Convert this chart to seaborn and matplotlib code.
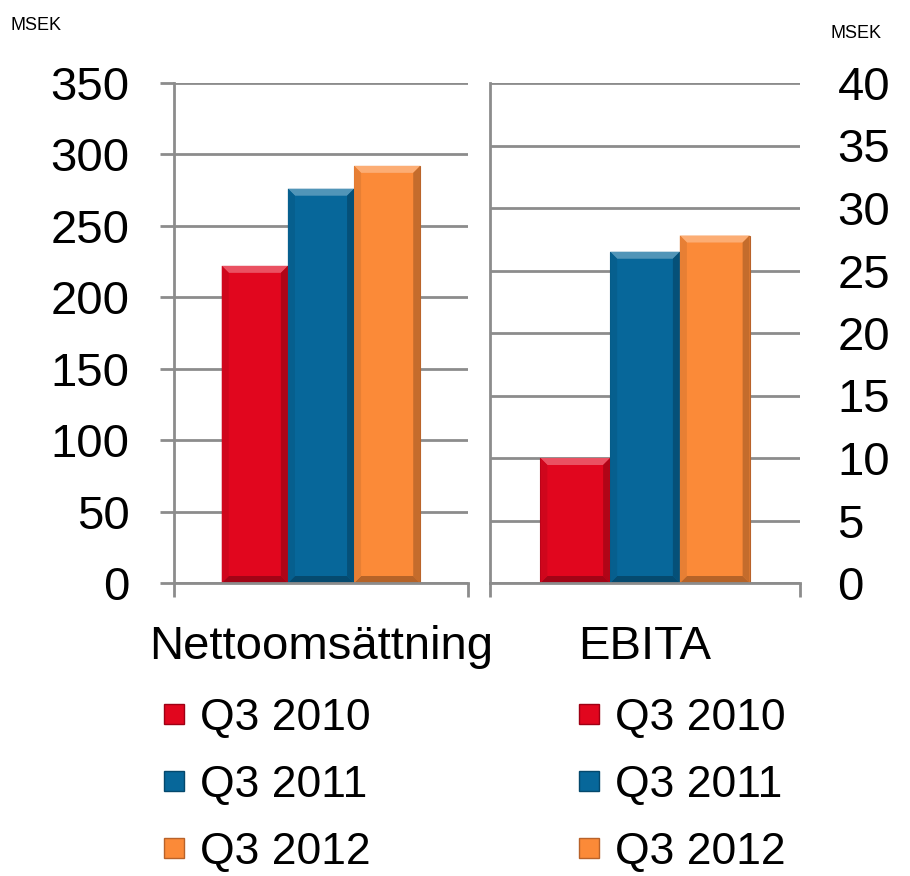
import matplotlib
matplotlib.use("Agg")
import matplotlib.pyplot as plt
import seaborn as sns
import pandas as pd
from matplotlib.lines import Line2D
from matplotlib.patches import Polygon
import matplotlib.colors as mcolors

# ---- data ----
periods = ["Q3 2010", "Q3 2011", "Q3 2012"]
net_sales = [222, 276, 292]          # MSEK, Nettoomsättning
ebita = [10, 26.5, 27.8]             # MSEK, EBITA
left_ticks = [0, 50, 100, 150, 200, 250, 300, 350]
right_ticks = [0, 5, 10, 15, 20, 25, 30, 35, 40]
cat_left = "Nettoomsättning"
cat_right = "EBITA"
colors = ["#E1061E", "#07679A", "#FB8A38"]
edge_colors = ["#9E0014", "#04486C", "#B8622A"]

sns.set_theme(style="white")
plt.rcParams['font.family'] = ['Liberation Sans', 'DejaVu Sans']
plt.rcParams['text.color'] = 'black'

GRID = "#8C8C8C"
FS = 34
LFS = 32


def shade(c, f):
    r, g, b = mcolors.to_rgb(c)
    if f >= 0:
        return (r + (1 - r) * f, g + (1 - g) * f, b + (1 - b) * f)
    return (r * (1 + f), g * (1 + f), b * (1 + f))


fig = plt.figure(figsize=(9.1, 8.76), dpi=100)
axL = fig.add_axes([174/910, 1-583/876, 294/910, 500/876])
axR = fig.add_axes([490/910, 1-583/876, 310/910, 500/876])

dfL = pd.DataFrame({"metric": [cat_left]*3, "period": periods, "value": net_sales})
dfR = pd.DataFrame({"metric": [cat_right]*3, "period": periods, "value": ebita})

for ax, df, ticks, lim, wpx in [(axL, dfL, left_ticks, 350, 294), (axR, dfR, right_ticks, 40, 310)]:
    sns.barplot(data=df, x="metric", y="value", hue="period", palette=colors,
                width=0.675, ax=ax, legend=False, saturation=1)
    ax.set_xlim(-0.5, 0.5)
    ax.set_ylim(0, lim)
    bev = 7
    dx = bev / wpx
    dy = bev / 500 * lim
    for i, p in enumerate(list(ax.patches)):
        c = colors[i % 3]
        p.set_edgecolor(edge_colors[i % 3])
        p.set_linewidth(0.8)
        x0, y0 = p.get_x(), p.get_y()
        x1, y1 = x0 + p.get_width(), y0 + p.get_height()
        polys = [
            ([(x0, y1), (x1, y1), (x1 - dx, y1 - dy), (x0 + dx, y1 - dy)], shade(c, 0.30)),
            ([(x1, y1), (x1, y0), (x1 - dx, y0 + dy), (x1 - dx, y1 - dy)], shade(c, -0.22)),
            ([(x0, y0), (x1, y0), (x1 - dx, y0 + dy), (x0 + dx, y0 + dy)], shade(c, -0.28)),
            ([(x0, y0), (x0, y1), (x0 + dx, y1 - dy), (x0 + dx, y0 + dy)], shade(c, -0.08)),
        ]
        for pts, col in polys:
            ax.add_patch(Polygon(pts, closed=True, facecolor=col, edgecolor="none", zorder=p.get_zorder() + 0.1))
    ax.set_yticks(ticks)
    ax.yaxis.grid(True, color=GRID, lw=2)
    ax.set_axisbelow(True)
    ax.set_xlabel("")
    ax.set_ylabel("")
    for s in ["top", "right"]:
        ax.spines[s].set_visible(False)
    for s in ["left", "bottom"]:
        ax.spines[s].set_color(GRID)
        ax.spines[s].set_linewidth(2)
    ax.set_xticks([0])
    ax.set_xticks([-0.5, 0.5], minor=True)
    ax.tick_params(axis="x", which="major", length=0, pad=30, labelsize=FS, labelcolor="black")
    ax.tick_params(axis="x", which="minor", length=10, width=2, color=GRID, direction="out", bottom=True)
    ax.set_facecolor("white")

axL.tick_params(axis="y", length=10, width=2, color=GRID, direction="out", left=True, pad=22,
                labelsize=FS, labelcolor="black")
axR.yaxis.tick_right()
axR.tick_params(axis="y", length=0, pad=27, labelsize=FS, right=False, labelcolor="black")

fig.text(10/910, 1-25/876, "MSEK", fontsize=13, va="center", ha="left", color="black")
fig.text(830/910, 1-33/876, "MSEK", fontsize=13, va="center", ha="left", color="black")

handles = [Line2D([], [], marker="s", ls="", markersize=15, markerfacecolor=c,
                  markeredgecolor=e, markeredgewidth=1) for c, e in zip(colors, edge_colors)]
for x0 in (162, 577):
    leg = fig.legend(handles, periods, loc="upper left", bbox_to_anchor=(x0/910, 1-698/876),
                     frameon=False, fontsize=LFS, handlelength=0.55, handletextpad=0.3,
                     labelspacing=0.58, borderpad=0, borderaxespad=0)
    for t in leg.get_texts():
        t.set_color("black")

fig.savefig("out.png", dpi=100, facecolor="white")
